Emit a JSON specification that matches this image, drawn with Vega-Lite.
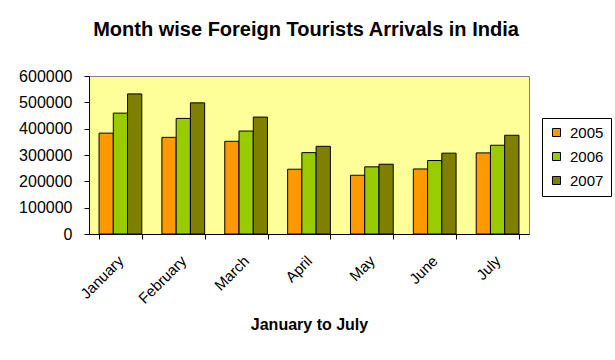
{
  "$schema": "https://vega.github.io/schema/vega-lite/v6.json",
  "width": 440,
  "height": 158,
  "autosize": {"type": "none"},
  "padding": {"left": 89, "top": 76, "right": 86, "bottom": 126},
  "background": "white",
  "title": {
    "text": "Month wise Foreign Tourists Arrivals  in India",
    "font": "Liberation Sans",
    "fontSize": 20,
    "fontWeight": "bold",
    "color": "black",
    "anchor": "middle",
    "dx": -3,
    "baseline": "alphabetic",
    "offset": 12
  },
  "config": {
    "view": {"stroke": "#808080", "fill": "#FFFF99", "strokeWidth": 1},
    "font": "Liberation Sans"
  },
  "data": {
    "values": [
      {"month": "January", "year": "2005", "value": 383000},
      {"month": "January", "year": "2006", "value": 459000},
      {"month": "January", "year": "2007", "value": 532000},
      {"month": "February", "year": "2005", "value": 367000},
      {"month": "February", "year": "2006", "value": 439000},
      {"month": "February", "year": "2007", "value": 498000},
      {"month": "March", "year": "2005", "value": 352000},
      {"month": "March", "year": "2006", "value": 391000},
      {"month": "March", "year": "2007", "value": 444000},
      {"month": "April", "year": "2005", "value": 246000},
      {"month": "April", "year": "2006", "value": 309000},
      {"month": "April", "year": "2007", "value": 333000},
      {"month": "May", "year": "2005", "value": 223000},
      {"month": "May", "year": "2006", "value": 255000},
      {"month": "May", "year": "2007", "value": 265000},
      {"month": "June", "year": "2005", "value": 247000},
      {"month": "June", "year": "2006", "value": 279000},
      {"month": "June", "year": "2007", "value": 307000},
      {"month": "July", "year": "2005", "value": 308000},
      {"month": "July", "year": "2006", "value": 337000},
      {"month": "July", "year": "2007", "value": 375000}
    ]
  },
  "mark": {"type": "bar", "stroke": "black", "strokeWidth": 1},
  "encoding": {
    "x": {
      "field": "month",
      "type": "nominal",
      "sort": ["January", "February", "March", "April", "May", "June", "July"],
      "scale": {"paddingInner": 0.32, "paddingOuter": 0.16},
      "title": "January to July",
      "axis": {
        "labelAngle": -45,
        "labelAlign": "right",
        "labelBaseline": "middle",
        "labelFont": "Liberation Sans",
        "labelFontSize": 15,
        "labelColor": "black",
        "labelPadding": 19,
        "tickBand": "extent",
        "tickSize": 5,
        "tickColor": "black",
        "domainColor": "black",
        "titleFont": "Liberation Sans",
        "titleFontSize": 16,
        "titleFontWeight": "bold",
        "titleColor": "black",
        "titlePadding": 10
      }
    },
    "xOffset": {"field": "year", "type": "nominal"},
    "y": {
      "field": "value",
      "type": "quantitative",
      "scale": {"domain": [0, 600000]},
      "title": null,
      "axis": {
        "values": [0, 100000, 200000, 300000, 400000, 500000, 600000],
        "format": "d",
        "grid": false,
        "labelFont": "Liberation Sans",
        "labelFontSize": 16,
        "labelColor": "black",
        "labelPadding": 12,
        "tickSize": 5,
        "tickColor": "black",
        "domainColor": "black"
      }
    },
    "color": {
      "field": "year",
      "type": "nominal",
      "scale": {"range": ["#FF9900", "#99CC00", "#808000"]},
      "legend": {
        "title": null,
        "orient": "none",
        "legendX": 453,
        "legendY": 42,
        "padding": 7,
        "strokeColor": "black",
        "fillColor": "white",
        "symbolType": "square",
        "symbolSize": 64,
        "symbolStrokeColor": "black",
        "symbolStrokeWidth": 1,
        "symbolOpacity": 1,
        "labelFont": "Liberation Sans",
        "labelFontSize": 15,
        "labelColor": "black",
        "labelOffset": 6,
        "rowPadding": 8
      }
    }
  }
}
